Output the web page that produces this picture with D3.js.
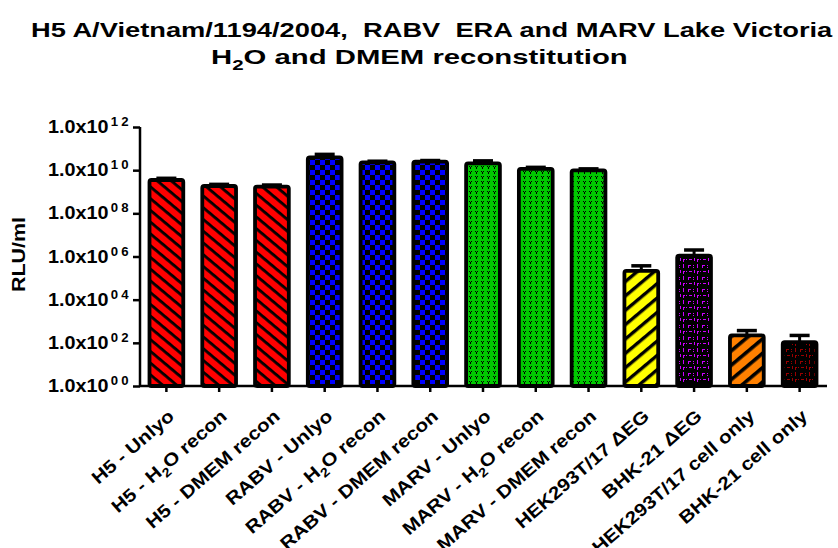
<!DOCTYPE html>
<html>
<head>
<meta charset="utf-8">
<script src="https://cdn.jsdelivr.net/npm/d3@7"></script>
<style>
  body { margin: 0; background: #fff; }
  text { font-family: "Liberation Sans", Arial, Helvetica, sans-serif; font-weight: bold; fill: #000; }
</style>
</head>
<body>
<div id="chart"></div>
<script>
// data (RLU/ml, mean and upper SD)
var categories = ["H5 - Unlyo", "H5 - H_2O recon", "H5 - DMEM recon",
  "RABV - Unlyo", "RABV - H_2O recon", "RABV - DMEM recon",
  "MARV - Unlyo", "MARV - H_2O recon", "MARV - DMEM recon",
  "HEK293T/17 \u0394EG", "BHK-21 \u0394EG", "HEK293T/17 cell only", "BHK-21 cell only"];
var means = [3.5e9, 1.85e9, 1.73e9, 3.9e10, 2.3e10, 2.5e10, 2.05e10, 1.15e10, 9.8e9, 2.15e5, 1.1e6, 2.2e2, 1.07e2];
var errors = [0.7e9, 0.35e9, 0.32e9, 1.5e10, 0.3e10, 0.3e10, 0.65e10, 0.2e10, 0.17e10, 1.55e5, 0.9e6, 1.5e2, 1.13e2];
var yTicks = [1, 1e2, 1e4, 1e6, 1e8, 1e10, 1e12];
var yTickExp = ["00", "02", "04", "06", "08", "10", "12"];
var title1 = "H5 A/Vietnam/1194/2004,  RABV  ERA and MARV Lake Victoria";
var title2 = "H_2O and DMEM reconstitution";
var yLabel = "RLU/ml";

// one fill pattern per bar
var patternOf = ["red", "red", "red", "blue", "blue", "blue", "green", "green", "green", "yellow", "purple", "orange", "darkred"];

var width = 838, height = 548;
var svg = d3.select("#chart").append("svg")
  .attr("width", width)
  .attr("height", height);

var defs = svg.append("defs");

// stripes
function stripes(id, bg, period, thick, angle) {
  var p = defs.append("pattern").attr("id", id)
    .attr("patternUnits", "userSpaceOnUse")
    .attr("width", 10).attr("height", period)
    .attr("patternTransform", "rotate(" + angle + ")");
  p.append("rect").attr("width", 10).attr("height", period).attr("fill", bg);
  p.append("rect").attr("width", 10).attr("height", thick).attr("fill", "#000");
}
stripes("red", "#ff0000", 9, 2.8, 40);
stripes("yellow", "#ffff00", 11, 3.4, -40);
stripes("orange", "#ff8000", 11, 3.6, -40);

// checker
var pb = defs.append("pattern").attr("id", "blue")
  .attr("patternUnits", "userSpaceOnUse").attr("width", 10).attr("height", 10);
pb.append("rect").attr("width", 10).attr("height", 10).attr("fill", "#000");
pb.append("rect").attr("width", 5).attr("height", 5).attr("fill", "#0000ff");
pb.append("rect").attr("x", 5).attr("y", 5).attr("width", 5).attr("height", 5).attr("fill", "#0000ff");

// green speckle
var pg = defs.append("pattern").attr("id", "green")
  .attr("patternUnits", "userSpaceOnUse").attr("width", 6).attr("height", 5);
pg.append("rect").attr("width", 6).attr("height", 5).attr("fill", "#00c800");
[[1, 1, 1, 1], [3, 1, 1, 1], [2, 2, 1, 2]].forEach(function (r) {
  pg.append("rect").attr("x", r[0]).attr("y", r[1]).attr("width", r[2]).attr("height", r[3]).attr("fill", "#000");
});

// dashes on black
function dashes(id, col) {
  var p = defs.append("pattern").attr("id", id)
    .attr("patternUnits", "userSpaceOnUse").attr("width", 14).attr("height", 12);
  p.append("rect").attr("width", 14).attr("height", 12).attr("fill", "#000");
  [[2, 1, 1, 3], [2, 1, 3, 1], [7, 1, 1, 1], [7, 3, 1, 1], [11, 0, 1, 4],
   [0, 7, 1, 1], [3, 7, 3, 1], [8, 6, 1, 3], [11, 7, 1, 3], [11, 7, 2, 1]].forEach(function (r) {
    p.append("rect").attr("x", r[0]).attr("y", r[1]).attr("width", r[2]).attr("height", r[3]).attr("fill", col);
  });
}
dashes("purple", "#cc00ff");
dashes("darkred", "#9a0000");

// scales
var x = d3.scaleBand()
  .domain(categories)
  .range([140, 826])
  .paddingInner(0.36)
  .paddingOuter(0.18);

var y = d3.scaleLog()
  .domain([1, 1e12])
  .range([386, 127]);

// text with _2 subscripts
function richText(sel, str, size) {
  var parts = str.split(/_(\d)/);
  parts.forEach(function (p, i) {
    if (p === "") return;
    if (i % 2 === 1) {
      sel.append("tspan").attr("dy", size * 0.28).style("font-size", (size * 0.7) + "px").text(p);
    } else {
      var t = sel.append("tspan").text(p);
      if (i > 0) t.attr("dy", -size * 0.28);
    }
  });
}

// stretch factor so a text takes a target length
function fit(sel, target) {
  var w = sel.node().getComputedTextLength();
  return target / w;
}

// title
var t1 = svg.append("text").attr("x", 0).attr("y", 0)
  .style("font-size", "20px").style("white-space", "pre").text(title1);
t1.attr("transform", "translate(31,37) scale(" + fit(t1, 802) + ",1)");
var t2 = svg.append("text").attr("x", 0).attr("y", 0).style("font-size", "20px");
richText(t2, title2, 20);
t2.attr("transform", "translate(211,64) scale(" + fit(t2, 417) + ",1)");

// bars
svg.append("g")
  .selectAll("rect")
  .data(categories)
  .enter().append("rect")
  .attr("x", function (d) { return x(d); })
  .attr("y", function (d, i) { return y(means[i]); })
  .attr("width", x.bandwidth())
  .attr("height", function (d, i) { return y(1) - y(means[i]); })
  .attr("rx", 2)
  .attr("fill", function (d, i) { return "url(#" + patternOf[i] + ")"; })
  .attr("stroke", "#000")
  .attr("stroke-width", 3.8);

// error bars (upper only)
var eb = svg.append("g").attr("stroke", "#000");
eb.selectAll("line.v")
  .data(categories)
  .enter().append("line")
  .attr("class", "v")
  .attr("x1", function (d) { return x(d) + x.bandwidth() / 2; })
  .attr("x2", function (d) { return x(d) + x.bandwidth() / 2; })
  .attr("y1", function (d, i) { return y(means[i]); })
  .attr("y2", function (d, i) { return y(means[i] + errors[i]); })
  .attr("stroke-width", 3);
eb.selectAll("line.cap")
  .data(categories)
  .enter().append("line")
  .attr("class", "cap")
  .attr("x1", function (d) { return x(d) + x.bandwidth() / 2 - 10; })
  .attr("x2", function (d) { return x(d) + x.bandwidth() / 2 + 10; })
  .attr("y1", function (d, i) { return y(means[i] + errors[i]); })
  .attr("y2", function (d, i) { return y(means[i] + errors[i]); })
  .attr("stroke-width", 3.5);

// Y axis
var yAxis = svg.append("g")
  .attr("transform", "translate(140,0)")
  .call(d3.axisLeft(y).tickValues(yTicks).tickSize(7).tickFormat(""));
yAxis.select(".domain").attr("stroke-width", 2.5).attr("d", "M0," + y(1e12) + "V" + y(1));
yAxis.selectAll(".tick line").attr("stroke-width", 2.5);

yTicks.forEach(function (v, i) {
  var lab = svg.append("text")
    .attr("text-anchor", "end")
    .style("font-size", "18px");
  lab.append("tspan").text("1.0x10");
  lab.append("tspan").attr("dy", -7).attr("dx", 2)
    .style("font-size", "12px").style("letter-spacing", "3px").text(yTickExp[i]);
  lab.attr("transform", "translate(132," + (y(v) + 6) + ") scale(1.1,1)");
});

// Y label
var yl = svg.append("text")
  .attr("text-anchor", "middle")
  .style("font-size", "18px")
  .text(yLabel);
yl.attr("transform", "translate(25,254.5) rotate(-90) scale(" + fit(yl, 75) + ",1)");

// X axis
var xAxis = svg.append("g")
  .attr("transform", "translate(0," + y(1) + ")")
  .call(d3.axisBottom(x).tickSize(6).tickSizeOuter(0).tickFormat(""));
xAxis.select(".domain").attr("stroke-width", 2.5).attr("d", "M140,0H827");
xAxis.selectAll(".tick line").attr("stroke-width", 2.5);

// X labels, rotated
categories.forEach(function (c) {
  var lab = svg.append("text")
    .attr("text-anchor", "end")
    .style("font-size", "18px");
  richText(lab, c, 18);
  lab.attr("transform", "translate(" + (x(c) + x.bandwidth() / 2 + 9) + ",418) rotate(-41) scale(1.15,1)");
});
</script>
</body>
</html>
